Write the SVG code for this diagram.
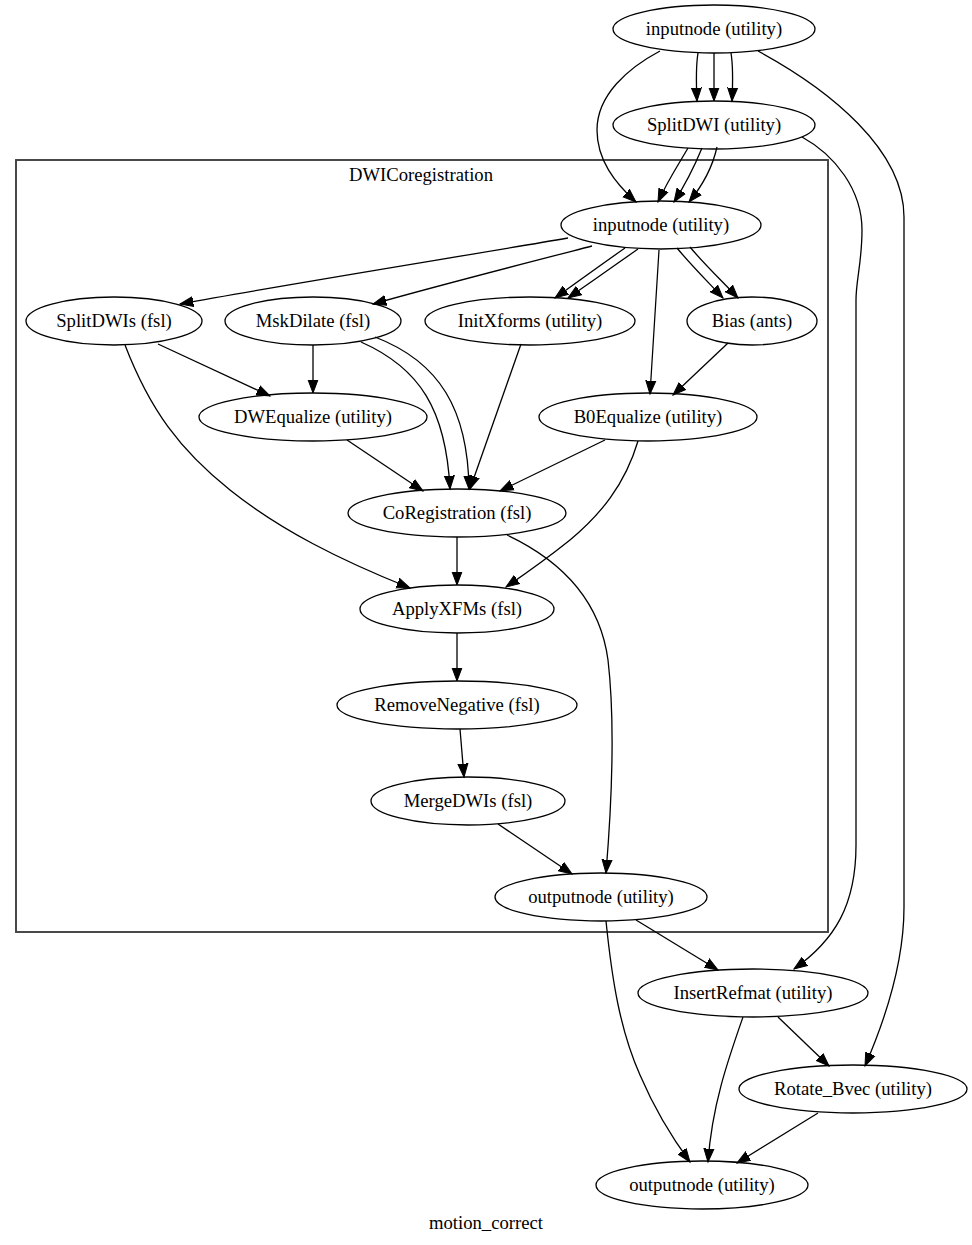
<svg xmlns="http://www.w3.org/2000/svg" width="972" height="1245" viewBox="0 0 972 1245">
<style>
.n ellipse{fill:none;stroke:#000;stroke-width:1.3}
text{font-family:"Liberation Serif","Times New Roman",serif;font-size:18.67px;fill:#000;text-anchor:middle}
.e path{fill:none;stroke:#000;stroke-width:1.3;marker-end:url(#ah)}
.cl{fill:none;stroke:#404040;stroke-width:1.9}
</style>
<defs>
<marker id="ah" markerUnits="userSpaceOnUse" markerWidth="16" markerHeight="12" viewBox="0 -6 16 12" refX="13.3" refY="0" orient="auto">
<path d="M0,-5 L13.3,0 L0,5 z" fill="#000" stroke="#000" stroke-width="1"/>
</marker>
</defs>
<rect x="0" y="0" width="972" height="1245" fill="#fff"/>
<g id="cluster_DWICoregistration">
<rect class="cl" x="16" y="160" width="812" height="772"/>
<text x="421" y="181">DWICoregistration</text>
</g>
<g class="e" id="edges">
<path d="M660,51 C628,68 597,95 597,130 C597,160 615,183 636,202"/>
<path d="M698,53 C696,65 696,80 697,101"/>
<path d="M714,53 L714,101"/>
<path d="M731,53 C733,65 733,80 732,101"/>
<path d="M758,51 C830,90 904,150 904,217 L904,907 C904,965 885,1020 865,1066"/>
<path d="M802,137 C835,155 862,190 862,230 C862,262 856,280 856,300 L856,845 C856,905 835,940 794,969"/>
<path d="M688,148 C680,162 668,180 658,202"/>
<path d="M702,148 C695,165 685,185 674,202"/>
<path d="M717,147 C713,165 703,185 689,202"/>
<path d="M568,238 C470,255 300,282 180,304"/>
<path d="M592,246 C530,262 440,285 373,304"/>
<path d="M625,248 C605,262 580,280 555,298"/>
<path d="M638,249 C618,263 593,281 568,298"/>
<path d="M659,250 L650,394"/>
<path d="M677,248 C690,264 708,282 723,298"/>
<path d="M690,247 C703,263 722,281 738,298"/>
<path d="M158,344 L270,396"/>
<path d="M125,345 C150,410 180,450 230,490 C280,530 340,560 410,588"/>
<path d="M313,345 L313,393"/>
<path d="M361,342 C420,368 446,410 450,489"/>
<path d="M375,337 C440,362 468,410 469,489"/>
<path d="M521,344 L470,489"/>
<path d="M347,440 L423,491"/>
<path d="M728,343 L673,395"/>
<path d="M605,440 L500,491"/>
<path d="M638,441 C625,485 600,515 570,540 C550,556 528,572 506,587"/>
<path d="M457,537 L457,585"/>
<path d="M507,535 C560,560 600,600 608,660 C615,720 612,800 606,873"/>
<path d="M457,633 L457,681"/>
<path d="M460,729 L464,777"/>
<path d="M498,824 L572,874"/>
<path d="M636,920 L718,970"/>
<path d="M606,921 C612,980 620,1030 640,1075 C655,1110 670,1135 690,1162"/>
<path d="M743,1017 C728,1060 712,1105 708,1162"/>
<path d="M778,1017 L829,1066"/>
<path d="M818,1113 L737,1163"/>
</g>
<g class="n" id="inputnode_top"><ellipse cx="714" cy="29" rx="101" ry="24"/><text x="714" y="35">inputnode (utility)</text></g>
<g class="n" id="SplitDWI"><ellipse cx="714" cy="125" rx="101" ry="24"/><text x="714" y="131">SplitDWI (utility)</text></g>
<g class="n" id="inputnode_inner"><ellipse cx="661" cy="225" rx="100" ry="24"/><text x="661" y="231">inputnode (utility)</text></g>
<g class="n" id="SplitDWIs"><ellipse cx="114" cy="321" rx="88" ry="24"/><text x="114" y="327">SplitDWIs (fsl)</text></g>
<g class="n" id="MskDilate"><ellipse cx="313" cy="321" rx="88" ry="24"/><text x="313" y="327">MskDilate (fsl)</text></g>
<g class="n" id="InitXforms"><ellipse cx="530" cy="321" rx="105" ry="24"/><text x="530" y="327">InitXforms (utility)</text></g>
<g class="n" id="Bias"><ellipse cx="752" cy="321" rx="65" ry="24"/><text x="752" y="327">Bias (ants)</text></g>
<g class="n" id="DWEqualize"><ellipse cx="313" cy="417" rx="114" ry="24"/><text x="313" y="423">DWEqualize (utility)</text></g>
<g class="n" id="B0Equalize"><ellipse cx="648" cy="417" rx="109" ry="24"/><text x="648" y="423">B0Equalize (utility)</text></g>
<g class="n" id="CoRegistration"><ellipse cx="457" cy="513" rx="109" ry="24"/><text x="457" y="519">CoRegistration (fsl)</text></g>
<g class="n" id="ApplyXFMs"><ellipse cx="457" cy="609" rx="97" ry="24"/><text x="457" y="615">ApplyXFMs (fsl)</text></g>
<g class="n" id="RemoveNegative"><ellipse cx="457" cy="705" rx="120" ry="24"/><text x="457" y="711">RemoveNegative (fsl)</text></g>
<g class="n" id="MergeDWIs"><ellipse cx="468" cy="801" rx="97" ry="24"/><text x="468" y="807">MergeDWIs (fsl)</text></g>
<g class="n" id="outputnode_inner"><ellipse cx="601" cy="897" rx="106" ry="24"/><text x="601" y="903">outputnode (utility)</text></g>
<g class="n" id="InsertRefmat"><ellipse cx="753" cy="993" rx="115" ry="24"/><text x="753" y="999">InsertRefmat (utility)</text></g>
<g class="n" id="Rotate_Bvec"><ellipse cx="853" cy="1089" rx="114" ry="24"/><text x="853" y="1095">Rotate_Bvec (utility)</text></g>
<g class="n" id="outputnode_outer"><ellipse cx="702" cy="1185" rx="106" ry="24"/><text x="702" y="1191">outputnode (utility)</text></g>
<text x="486" y="1229">motion_correct</text>
</svg>
